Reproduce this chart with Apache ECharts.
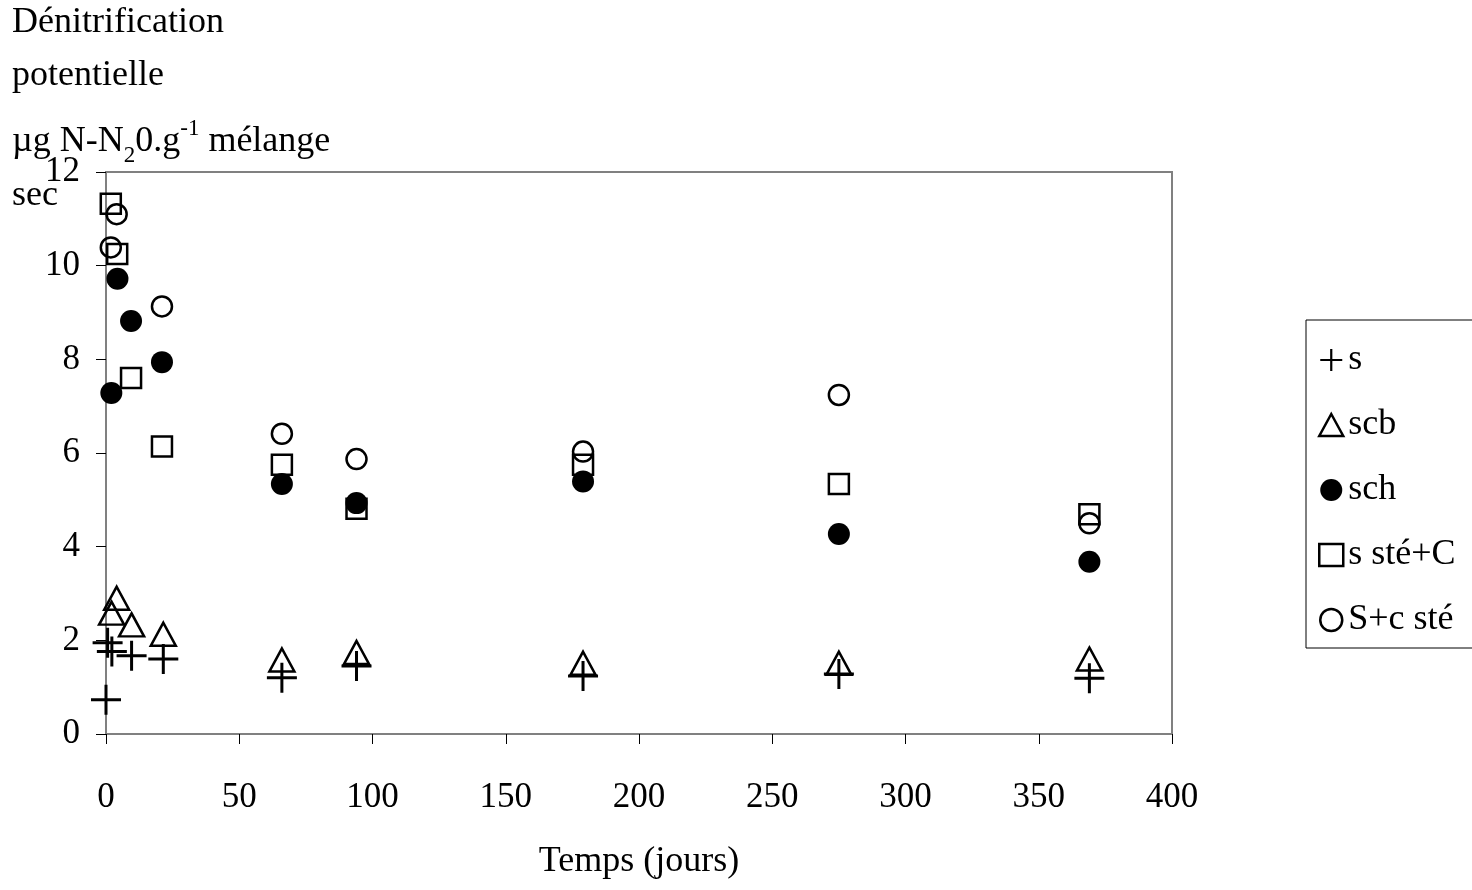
<!DOCTYPE html>
<html>
<head>
<meta charset="utf-8">
<script src="https://cdn.jsdelivr.net/npm/echarts@6/dist/echarts.min.js"></script>
<style>
  html, body { margin: 0; padding: 0; background: #fff; }
  #chart { width: 1472px; height: 890px; }
</style>
</head>
<body>
<div id="chart"></div>
<script>
// donnees
var seriesNames = ['s', 'scb', 'sch', 's sté+C', 'S+c sté'];

var sDays = [0, 0.6, 2.2, 9.6, 21.5, 66, 94, 179, 275, 369];
var sVals = [0.73, 1.95, 1.76, 1.67, 1.6, 1.2, 1.45, 1.24, 1.28, 1.19];

var scbDays = [2.1, 4, 9.6, 21.5, 66, 94, 179, 275, 369];
var scbVals = [2.58, 2.9, 2.33, 2.13, 1.58, 1.74, 1.51, 1.51, 1.6];

var schDays = [2, 4.3, 9.4, 21, 66, 94, 179, 275, 369];
var schVals = [7.28, 9.72, 8.82, 7.94, 5.34, 4.93, 5.39, 4.27, 3.68];

var steCDays = [1.8, 4.2, 9.4, 21, 66, 94, 179, 275, 369];
var steCVals = [11.32, 10.25, 7.6, 6.14, 5.75, 4.81, 5.75, 5.34, 4.69];

var cSteDays = [1.8, 4, 21, 66, 94, 179, 275, 369];
var cSteVals = [10.39, 11.1, 9.13, 6.41, 5.87, 6.03, 7.24, 4.5];

var xTicks = [0, 50, 100, 150, 200, 250, 300, 350, 400];
var yTicks = [0, 2, 4, 6, 8, 10, 12];

function pairs(days, vals) {
    var out = [];
    for (var i = 0; i < days.length; i++) {
        out.push([days[i], vals[i]]);
    }
    return out;
}

var serif = "'Liberation Serif', 'Times New Roman', serif";
var plusPath = 'path://M13.5,0H16.5V13.5H30V16.5H16.5V30H13.5V16.5H0V13.5H13.5Z';

var chart = echarts.init(document.getElementById('chart'));
var option = {
    animation: false,
    backgroundColor: '#fff',
    textStyle: { fontFamily: serif },
    graphic: [
        { type: 'text', left: 12, top: 5,
          style: { text: 'Dénitrification', font: '36px ' + serif, fill: '#000' } },
        { type: 'text', left: 12, top: 58,
          style: { text: 'potentielle', font: '36px ' + serif, fill: '#000' } },
        { type: 'text', left: 12, top: 117,
          style: {
              text: '{a|µg N-N}{sub|2}{a|0.g}{sup|-1}{a| mélange}',
              fill: '#000',
              rich: {
                  a: { fontSize: 36, fontFamily: serif, lineHeight: 50, verticalAlign: 'middle', color: '#000' },
                  sub: { fontSize: 23, fontFamily: serif, lineHeight: 23, verticalAlign: 'bottom', color: '#000' },
                  sup: { fontSize: 23, fontFamily: serif, lineHeight: 23, verticalAlign: 'top', color: '#000' }
              }
          } },
        { type: 'text', left: 12, top: 178,
          style: { text: 'sec', font: '36px ' + serif, fill: '#000' } }
    ],
    legend: {
        orient: 'vertical',
        left: 1306,
        top: 320,
        data: seriesNames,
        padding: [20, 24, 8, 12],
        itemGap: 25,
        itemWidth: 24,
        itemHeight: 22,
        textGap: 8,
        itemStyle: { borderWidth: 'inherit' },
        borderColor: '#000',
        borderWidth: 1,
        borderRadius: 0,
        textStyle: { fontFamily: serif, fontSize: 36, color: '#000', lineHeight: 40 }
    },
    grid: {
        left: 106,
        top: 172,
        right: 300,
        bottom: 156,
        outerBoundsMode: 'none',
        containLabel: false,
        show: true,
        borderColor: '#808080',
        borderWidth: 2
    },
    xAxis: {
        type: 'value',
        min: 0,
        max: 400,
        interval: 50,
        name: 'Temps (jours)',
        nameLocation: 'middle',
        nameGap: 110,
        nameTextStyle: { fontFamily: serif, fontSize: 36, color: '#000' },
        axisLine: { lineStyle: { color: '#808080', width: 2 } },
        axisTick: { show: true, length: 10, lineStyle: { color: '#000', width: 1 } },
        axisLabel: {
            margin: 46, fontFamily: serif, fontSize: 35, color: '#000',
            formatter: function (v) { return xTicks.indexOf(v) >= 0 ? String(v) : ''; }
        },
        splitLine: { show: false }
    },
    yAxis: {
        type: 'value',
        min: 0,
        max: 12,
        interval: 2,
        axisLine: { show: true, lineStyle: { color: '#808080', width: 2 } },
        axisTick: { show: true, length: 10, lineStyle: { color: '#000', width: 1 } },
        axisLabel: {
            margin: 26, fontFamily: serif, fontSize: 35, color: '#000',
            formatter: function (v) { return yTicks.indexOf(v) >= 0 ? String(v) : ''; }
        },
        splitLine: { show: false }
    },
    series: [
        {
            name: 's', type: 'scatter', symbol: plusPath, symbolSize: 30,
            itemStyle: { color: '#000', opacity: 1 },
            data: pairs(sDays, sVals)
        },
        {
            name: 'scb', type: 'scatter', symbol: 'triangle', symbolSize: [25, 23],
            itemStyle: { color: 'rgba(0,0,0,0)', borderColor: '#000', borderWidth: 2.5, opacity: 1 },
            data: pairs(scbDays, scbVals)
        },
        {
            name: 'sch', type: 'scatter', symbol: 'circle', symbolSize: 22,
            itemStyle: { color: '#000', opacity: 1 },
            data: pairs(schDays, schVals)
        },
        {
            name: 's sté+C', type: 'scatter', symbol: 'rect', symbolSize: 20,
            itemStyle: { color: 'rgba(0,0,0,0)', borderColor: '#000', borderWidth: 2.5, opacity: 1 },
            data: pairs(steCDays, steCVals)
        },
        {
            name: 'S+c sté', type: 'scatter', symbol: 'circle', symbolSize: 20,
            itemStyle: { color: 'rgba(0,0,0,0)', borderColor: '#000', borderWidth: 2.5, opacity: 1 },
            data: pairs(cSteDays, cSteVals)
        }
    ]
};
chart.setOption(option);
</script>
</body>
</html>
